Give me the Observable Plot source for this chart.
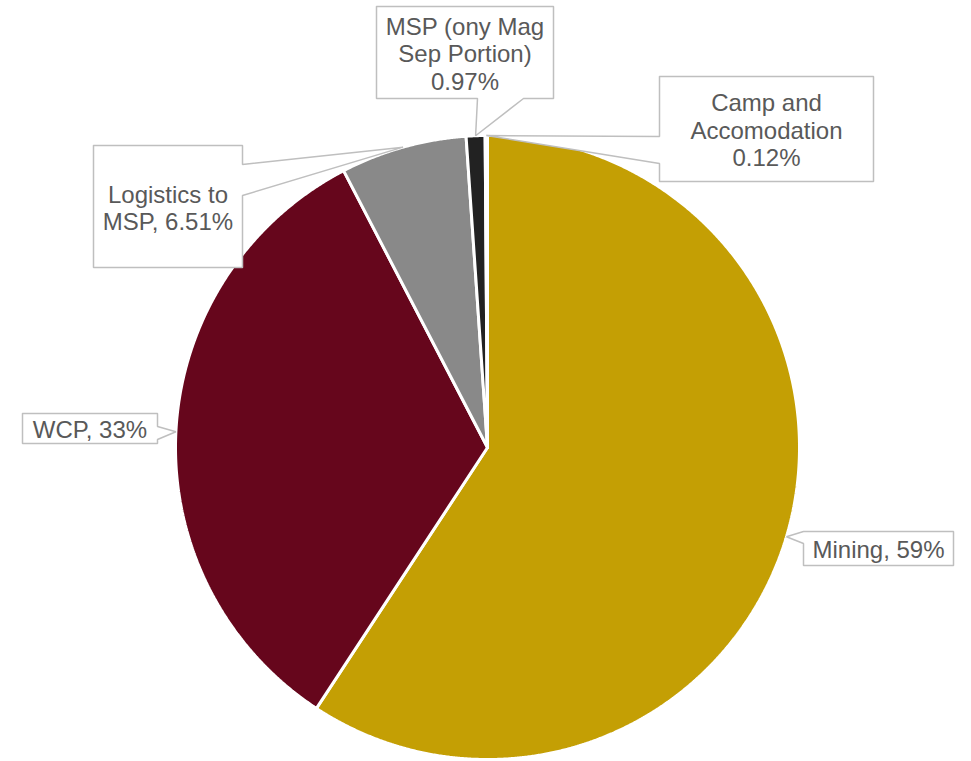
<!DOCTYPE html>
<html><head><meta charset="utf-8">
<script src="https://cdn.jsdelivr.net/npm/d3@7"></script>
<script src="https://cdn.jsdelivr.net/npm/@observablehq/plot@0.6"></script>
<style>html,body{margin:0;padding:0;background:#fff;} #chart{width:971px;height:761px;}</style>
</head><body><div id="chart"></div>
<script>
// ---- data ----
const categories = ["Mining", "WCP", "Logistics to MSP", "MSP (ony Mag Sep Portion)", "Camp and Accomodation"];
const shares = [59, 33, 6.51, 0.97, 0.12];
const labelNames = ["Mining", "WCP", "Logistics to\nMSP", "MSP (ony Mag\nSep Portion)", "Camp and\nAccomodation"];
const labelSeparators = [", ", ", ", ", ", "\n", "\n"];
const sliceColors = ["#C49F04", "#66061C", "#898989", "#222222", "#7F6000"];

// ---- layout (pixels) ----
const W = 971, H = 761, CX = 487, CY = 447, R = 312;
const calloutLayout = [
  {box: [803, 531, 953, 565], side: "left",   base: [531, 543]},
  {box: [22, 413, 157, 443],  side: "right",  base: [426, 439]},
  {box: [93, 145, 242, 267],  side: "right",  base: [164, 195]},
  {box: [376, 6, 553, 98],    side: "bottom", base: [477, 523]},
  {box: [659, 76, 873, 181],  side: "left",   base: [136, 163]}
];
const ux = px => (px - CX) / R;
const uy = py => (CY - py) / R;

const data = categories.map((c, i) => ({name: c, share: shares[i], i}));
const arcs = d3.pie().sort(null).value(d => d.share)(data);

// slice outlines in unit-circle coordinates
const slicePts = [];
for (const a of arcs) {
  const n = Math.max(2, Math.ceil((a.endAngle - a.startAngle) / 0.004));
  slicePts.push({name: a.data.name, x: 0, y: 0});
  for (let k = 0; k <= n; k++) {
    const t = a.startAngle + (a.endAngle - a.startAngle) * k / n;
    slicePts.push({name: a.data.name, x: Math.sin(t), y: Math.cos(t)});
  }
  slicePts.push({name: a.data.name, x: 0, y: 0});
}

// callout boxes with pointer to slice mid-angle
const calloutPts = [];
const labelData = [];
arcs.forEach((a, i) => {
  const L = calloutLayout[i];
  const [l, t, r, b] = L.box;
  const mid = (a.startAngle + a.endAngle) / 2;
  const tip = {x: Math.sin(mid), y: Math.cos(mid)};
  const P = (px, py) => ({x: ux(px), y: uy(py)});
  let pts;
  if (L.side === "left") {
    pts = [P(l, t), P(r, t), P(r, b), P(l, b), P(l, L.base[1]), tip, P(l, L.base[0]), P(l, t)];
  } else if (L.side === "right") {
    pts = [P(l, t), P(r, t), P(r, L.base[0]), tip, P(r, L.base[1]), P(r, b), P(l, b), P(l, t)];
  } else {
    pts = [P(l, t), P(r, t), P(r, b), P(L.base[1], b), tip, P(L.base[0], b), P(l, b), P(l, t)];
  }
  pts.forEach(p => calloutPts.push({id: i, ...p}));
  labelData.push({
    x: ux((l + r) / 2), y: uy((t + b) / 2 + 1),
    text: labelNames[i] + labelSeparators[i] + shares[i] + "%"
  });
});

const chart = Plot.plot({
  width: W, height: H, margin: 0,
  style: {background: "#fff", fontFamily: "'Liberation Sans', Arial, sans-serif"},
  x: {domain: [ux(0), ux(W)], axis: null},
  y: {domain: [uy(H), uy(0)], axis: null},
  color: {domain: categories, range: sliceColors},
  marks: [
    Plot.line(slicePts, {x: "x", y: "y", z: "name", fill: "name", stroke: "white", strokeWidth: 3, strokeLinejoin: "miter", curve: "linear"}),
    Plot.line(calloutPts, {x: "x", y: "y", z: "id", fill: "white", stroke: "#BFBFBF", strokeWidth: 1.5, strokeLinejoin: "miter", curve: "linear"}),
    Plot.text(labelData, {x: "x", y: "y", text: "text", fontSize: 24, fill: "#595959", lineHeight: 1.15, textAnchor: "middle", fontFamily: "'Liberation Sans', Arial, sans-serif"})
  ]
});
document.getElementById("chart").appendChild(chart);
</script>
</body></html>
